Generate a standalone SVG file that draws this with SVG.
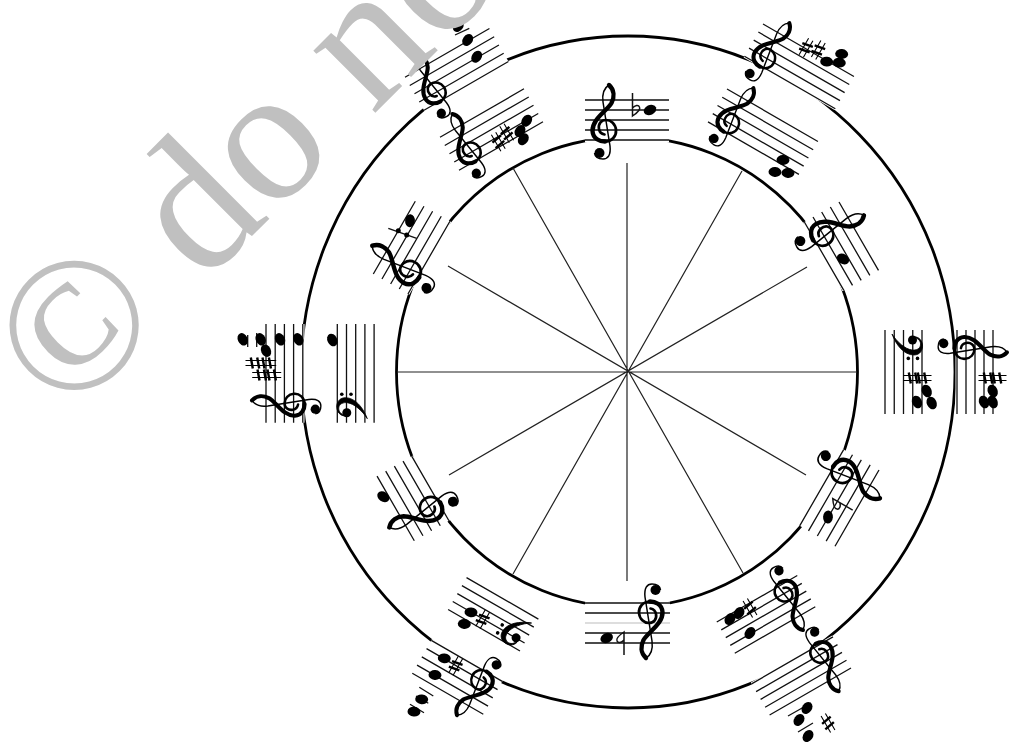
<svg xmlns="http://www.w3.org/2000/svg" width="1017" height="742" viewBox="0 0 1017 742">
<style>
.ring{fill:none;stroke:#000;stroke-width:2.8}
.spoke{stroke:#222;stroke-width:1.2;fill:none}
.staff{stroke:#111;stroke-width:1.3;fill:none}
.mask{fill:#fff}
.wm{font-family:"Liberation Serif","Times New Roman",serif;font-size:191px;fill:#c0c0c0}
</style>
<defs>
<g id="treble" transform="translate(21 26)">
<path d="M3 -41C8.500 -36 8.500 -29 5.500 -23C1 -15 -14 -7 -13.500 5C-13 13 -6 15.500 -1 15.500" fill="none" stroke="#000" stroke-width="4.400" stroke-linecap="round"/>
<path d="M-1 15.500C6 15.500 10.500 10 10 4C9.500 -2 5 -6 0 -6C-5 -6 -8 -2 -7 3C-6.500 6 -4 8 -1.500 8.500" fill="none" stroke="#000" stroke-width="2.700" stroke-linecap="round"/>
<path d="M3 -41C-2 -38 -4 -32 -3 -24L4 20C5 29 2 33 -3 33C-8 33 -11 31 -11.500 27" fill="none" stroke="#000" stroke-width="1.500"/>
<circle cx="-6.500" cy="27" r="5" fill="#000"/>
</g>
<g id="bass">
<path d="M4 30C15 26 25 18 25 8C25 2 20 -1 15 -.5C9 0 6 5 7 9C8 3 12 1 15 1.500C19 2 20.500 6 20 10C19 17 12 25 4 30Z" fill="#000" stroke="#000" stroke-width=".8"/>
<circle cx="10" cy="9.500" r="4.500" fill="#000"/>
<circle cx="28.400" cy="4.500" r="1.800" fill="#000"/>
<circle cx="28.400" cy="13.700" r="1.800" fill="#000"/>
</g>
<ellipse id="note" rx="6.500" ry="4.900" transform="rotate(-25)" fill="#000"/>
<g id="sharp" fill="none" stroke="#000">
<path d="M-2.500 -9.500V9.500M2.500 -9.500V9.500" stroke-width="1.100"/>
<path d="M-5.500 -2.200L5.500 -4.200M-5.500 4.200L5.500 2.200" stroke-width="2.400"/>
</g>
<path id="flat" d="M-2.500 -17V6C2 3 6 0 4.500 -3C3.500 -5.500 0 -5 -2.500 -2" fill="none" stroke="#111" stroke-width="1.500"/>
</defs>
<rect width="1017" height="742" fill="#fff"/>
<g id="connectors">
<ellipse class="ring" cx="628" cy="372" rx="327" ry="336"/>
<ellipse class="ring" cx="627" cy="372" rx="230.500" ry="235"/>
<path class="spoke" d="M627 163V581M397 372H857M513 168L743 573M742 171L513 574M807 267L449 475M806 475L448 266"/>
</g>
<g id="stave-12" transform="translate(585 100)">
<rect class="mask" y="-1.500" width="84" height="44"/>
<path class="staff" d="M0 0H84M0 10H84M0 20H84M0 30H84M0 40H84"/>
<use href="#treble"/>
<use href="#flat" x="50" y="10"/>
<use href="#note" x="65" y="10"/>
</g>
<g id="stave-1-inner">
<g transform="translate(727 89) rotate(30)">
<rect class="mask" y="-1.500" width="105" height="41"/>
<path class="staff" d="M0 0H105M0 9.500H105M0 19H105M0 28.500H105M0 38H105"/>
<use href="#treble" transform="scale(.93)"/>
</g>
<use href="#note" transform="translate(783 160) rotate(30)"/>
<use href="#note" transform="translate(775 172) rotate(30)"/>
<use href="#note" transform="translate(788 173) rotate(30)"/>
</g>
<g id="stave-1-outer">
<g transform="translate(763 24) rotate(30)">
<rect class="mask" y="-1.500" width="105" height="40.200"/>
<path class="staff" d="M0 0H105M0 9.300H105M0 18.600H105M0 27.900H105M0 37.200H105"/>
<use href="#treble" transform="scale(.93)"/>
</g>
<use href="#sharp" transform="translate(806 47.700) rotate(30)"/>
<use href="#sharp" transform="translate(818.300 50) rotate(30)"/>
<use href="#note" transform="translate(841.700 54) rotate(30)"/>
<use href="#note" transform="translate(826.700 61.700) rotate(30)"/>
<use href="#note" transform="translate(839.300 62.700) rotate(30)"/>
</g>
<g id="stave-2">
<g transform="translate(839 202) rotate(60)">
<rect class="mask" y="-1.500" width="79" height="43"/>
<path class="staff" d="M0 0H79M0 10H79M0 20H79M0 30H79M0 40H79"/>
<use href="#treble"/>
</g>
<use href="#note" transform="translate(843 259) rotate(60)"/>
</g>
<g id="stave-3-inner">
<g transform="translate(922 330) rotate(90)">
<rect class="mask" y="-1.500" width="84" height="40"/>
<path class="staff" d="M0 0H84M0 9.250H84M0 18.500H84M0 27.750H84M0 37H84"/>
<use href="#bass"/>
</g>
<use href="#sharp" transform="translate(913 378) rotate(90)"/>
<use href="#sharp" transform="translate(922 378) rotate(90)"/>
<use href="#note" transform="translate(926.700 391) rotate(90)"/>
<use href="#note" transform="translate(917 402) rotate(90)"/>
<use href="#note" transform="translate(931.700 403) rotate(90)"/>
</g>
<g id="stave-3-outer">
<g transform="translate(993 330) rotate(90)">
<rect class="mask" y="-1.500" width="84" height="39"/>
<path class="staff" d="M0 0H84M0 9H84M0 18H84M0 27H84M0 36H84"/>
<use href="#treble" transform="scale(.93)"/>
</g>
<use href="#sharp" transform="translate(988 378) rotate(90)"/>
<use href="#sharp" transform="translate(997 378) rotate(90)"/>
<use href="#note" transform="translate(992.700 391) rotate(90)"/>
<use href="#note" transform="translate(984 402) rotate(90)"/>
<use href="#note" transform="translate(992.700 402) rotate(90)"/>
</g>
<g id="stave-4">
<g transform="translate(879 470) rotate(120)">
<rect class="mask" y="-1.500" width="88" height="43.800"/>
<path class="staff" d="M0 0H88M0 10.200H88M0 20.400H88M0 30.600H88M0 40.800H88"/>
<use href="#treble"/>
</g>
<use href="#flat" transform="translate(836.700 503.700) rotate(120)"/>
<use href="#note" transform="translate(828 517) rotate(120)"/>
</g>
<g id="stave-5-inner">
<g transform="translate(815.300 606.700) rotate(150)">
<rect class="mask" y="-1.500" width="93" height="39"/>
<path class="staff" d="M0 0H93M0 9H93M0 18H93M0 27H93M0 36H93"/>
<use href="#treble" transform="scale(.93)"/>
</g>
<use href="#sharp" transform="translate(750 608) rotate(150)"/>
<use href="#note" transform="translate(739 613) rotate(150)"/>
<use href="#note" transform="translate(730 619) rotate(150)"/>
<use href="#note" transform="translate(750 633) rotate(150)"/>
</g>
<g id="stave-5-outer">
<g transform="translate(851 668) rotate(150)">
<rect class="mask" y="-1.500" width="94" height="39"/>
<path class="staff" d="M0 0H94M0 9H94M0 18H94M0 27H94M0 36H94"/>
<use href="#treble" transform="scale(.93)"/>
</g>
<path class="staff" d="M788 716L811 703M798 732L813 723"/>
<use href="#note" transform="translate(807 708) rotate(150)"/>
<use href="#note" transform="translate(799 720) rotate(150)"/>
<use href="#note" transform="translate(808 736) rotate(150)"/>
<use href="#sharp" transform="translate(828 723) rotate(150)"/>
</g>
<g id="stave-6">
<g transform="translate(670 643) rotate(180)">
<rect class="mask" y="-1.500" width="85" height="43"/>
<path class="staff" d="M0 0H85M0 10H85M0 30H85M0 40H85"/>
<path d="M0 20H85" stroke="#bbb" stroke-width="1.200"/>
<use href="#treble"/>
</g>
<use href="#flat" transform="translate(621.500 638) rotate(180)"/>
<use href="#note" transform="translate(606.700 638) rotate(180)"/>
</g>
<g id="stave-7-inner">
<g transform="translate(520 651) rotate(210)">
<rect class="mask" y="-1.500" width="83" height="40"/>
<path class="staff" d="M0 0H83M0 9.200H83M0 18.400H83M0 27.600H83M0 36.800H83"/>
<use href="#bass"/>
</g>
<use href="#sharp" transform="translate(482.700 619.300) rotate(210)"/>
<use href="#note" transform="translate(471 612.300) rotate(210)"/>
<use href="#note" transform="translate(464.300 624) rotate(210)"/>
</g>
<g id="stave-7-outer">
<g transform="translate(483.300 714.300) rotate(210)">
<rect class="mask" y="-1.500" width="82" height="41"/>
<path class="staff" d="M0 0H82M0 9.500H82M0 19H82M0 28.500H82M0 38H82"/>
<use href="#treble" transform="scale(.93)"/>
</g>
<path class="staff" d="M419.300 687.300L433.300 696M416 696L428.300 703.300M410 704.300L424 712.700"/>
<use href="#sharp" transform="translate(455.700 665.700) rotate(210)"/>
<use href="#note" transform="translate(444.300 658.300) rotate(210)"/>
<use href="#note" transform="translate(435 675) rotate(210)"/>
<use href="#note" transform="translate(421.700 699.300) rotate(210)"/>
<use href="#note" transform="translate(414 711.700) rotate(210)"/>
</g>
<g id="stave-8">
<g transform="translate(414.300 540.700) rotate(240)">
<rect class="mask" y="-1.500" width="74.500" height="43"/>
<path class="staff" d="M0 0H74.500M0 10H74.500M0 20H74.500M0 30H74.500M0 40H74.500"/>
<use href="#treble"/>
</g>
<use href="#note" transform="translate(383.300 496.700) rotate(240)"/>
</g>
<g id="stave-9-inner">
<g transform="translate(337.300 422.700) rotate(270)">
<rect class="mask" y="-1.500" width="98.700" height="40"/>
<path class="staff" d="M0 0H98.700M0 9.200H98.700M0 18.400H98.700M0 27.600H98.700M0 36.800H98.700"/>
<use href="#bass"/>
</g>
<use href="#note" transform="translate(332.300 340) rotate(270)"/>
</g>
<g id="stave-9-outer">
<g transform="translate(266 422.700) rotate(270)">
<rect class="mask" y="-1.500" width="98.700" height="40"/>
<path class="staff" d="M0 0H98.700M0 9.200H98.700M0 18.400H98.700M0 27.600H98.700M0 36.800H98.700"/>
<use href="#treble" transform="scale(.93)"/>
</g>
<path class="staff" d="M247.700 335V347M256.700 333V347"/>
<use href="#sharp" transform="translate(255 363) rotate(270)"/>
<use href="#sharp" transform="translate(266.700 363) rotate(270)"/>
<use href="#sharp" transform="translate(261.700 375) rotate(270)"/>
<use href="#sharp" transform="translate(271.700 375) rotate(270)"/>
<use href="#note" transform="translate(242.700 339.300) rotate(270)"/>
<use href="#note" transform="translate(260.700 339.300) rotate(270)"/>
<use href="#note" transform="translate(266 350.700) rotate(270)"/>
<use href="#note" transform="translate(280 339.300) rotate(270)"/>
<use href="#note" transform="translate(298.300 339.300) rotate(270)"/>
</g>
<g id="stave-10">
<g transform="translate(373.300 274) rotate(300)">
<rect class="mask" y="-1.500" width="84" height="43"/>
<path class="staff" d="M0 0H84M0 10H84M0 20H84M0 30H84M0 40H84"/>
<use href="#treble"/>
</g>
<path class="staff" d="M388.300 228.300L416.700 238.300"/>
<circle cx="398.300" cy="230.700" r="2.500" fill="#000"/>
<circle cx="406.700" cy="235" r="2.500" fill="#000"/>
<use href="#note" transform="translate(410 220.700) rotate(300)"/>
</g>
<g id="stave-11-inner">
<g transform="translate(440 137.300) rotate(330)">
<rect class="mask" y="-1.500" width="97" height="41"/>
<path class="staff" d="M0 0H97M0 9.500H97M0 19H97M0 28.500H97M0 38H97"/>
<use href="#treble" transform="scale(.93)"/>
</g>
<use href="#sharp" transform="translate(498.300 141.700) rotate(330)"/>
<use href="#sharp" transform="translate(506.700 133.300) rotate(330)"/>
<use href="#note" transform="translate(526.700 120.700) rotate(330)"/>
<use href="#note" transform="translate(520 131) rotate(330)"/>
<use href="#note" transform="translate(523.300 139.300) rotate(330)"/>
</g>
<g id="stave-11-outer">
<g transform="translate(405 77.300) rotate(330)">
<rect class="mask" y="-1.500" width="97.500" height="41"/>
<path class="staff" d="M0 0H97.500M0 9.500H97.500M0 19H97.500M0 28.500H97.500M0 38H97.500"/>
<use href="#treble" transform="scale(.93)"/>
</g>
<path class="staff" d="M455 35L469.300 28.300"/>
<use href="#note" transform="translate(476.700 56.700) rotate(330)"/>
<use href="#note" transform="translate(467.700 40) rotate(330)"/>
<use href="#note" transform="translate(458.300 26) rotate(330)"/>
</g>
<text id="watermark" class="wm" transform="translate(67 421) rotate(-45)">© do no</text>
</svg>
